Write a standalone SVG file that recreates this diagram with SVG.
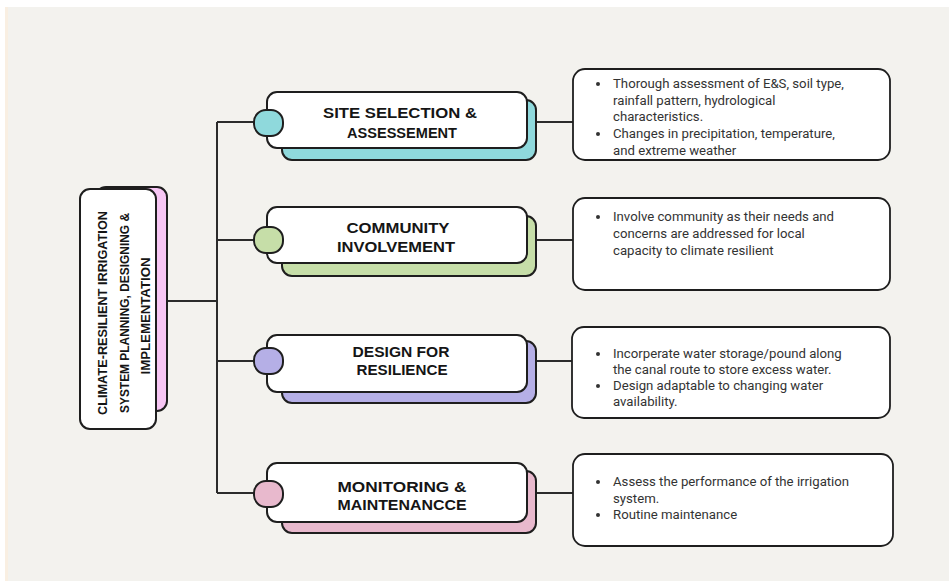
<svg xmlns="http://www.w3.org/2000/svg" width="949" height="581" viewBox="0 0 949 581">
<style>
.ln{stroke:#2b2b2b;stroke-width:2;fill:none}
.wb{fill:#ffffff;stroke:#1e1e1e;stroke-width:2}
.sh{stroke:#1e1e1e;stroke-width:2}
.nt{font-family:"Liberation Sans",Arial,sans-serif;font-weight:700;font-size:14px;fill:#151515;text-anchor:middle}
.ct{font-family:"Liberation Sans",Arial,sans-serif;font-weight:700;font-size:12.5px;fill:#151515;text-anchor:middle}
.dt{font-family:Roboto,"Liberation Sans",sans-serif;font-size:13.2px;fill:#333333}
.db{fill:#ffffff;stroke:#1e1e1e;stroke-width:1.8}
.bu{fill:#333333}
</style>
<rect x="0" y="0" width="949" height="581" fill="#ffffff"/>
<rect x="5" y="7" width="944" height="574" fill="#f9efe2"/>
<rect x="8" y="7" width="941" height="574" fill="#f3f2ee"/>

<g id="connectors">
<path class="ln" d="M167 301 H217 M217 122 V493 M217 122 H255 M217 240 H255 M217 361 H255 M217 493 H255"/>
<path class="ln" d="M535 122 H573 M535 240 H573 M535 361 H573 M535 493 H573"/>
</g>

<g id="central">
<rect x="96" y="187" width="71" height="224" rx="10" fill="#f7c6f4" class="sh"/>
<rect x="80" y="189" width="76" height="240" rx="10" class="wb"/>
<text class="ct" transform="translate(107 313) rotate(-90)" textLength="204" lengthAdjust="spacingAndGlyphs">CLIMATE-RESILIENT IRRIGATION</text>
<text class="ct" transform="translate(129 313) rotate(-90)" textLength="200" lengthAdjust="spacingAndGlyphs">SYSTEM PLANNING, DESIGNING &amp;</text>
<text class="ct" transform="translate(150 316) rotate(-90)" textLength="117" lengthAdjust="spacingAndGlyphs">IMPLEMENTATION</text>
</g>

<g id="node1">
<rect x="282" y="100" width="254" height="60" rx="10" fill="#8fd9dc" class="sh"/>
<rect x="267" y="92" width="260" height="56" rx="10" class="wb"/>
<rect x="254" y="110" width="29" height="26" rx="12" fill="#8fd9dc" class="sh"/>
<text class="nt" x="400" y="118" textLength="154" lengthAdjust="spacingAndGlyphs">SITE SELECTION &amp;</text>
<text class="nt" x="402" y="138" textLength="110" lengthAdjust="spacingAndGlyphs">ASSESSEMENT</text>
</g>

<g id="node2">
<rect x="282" y="216" width="254" height="60" rx="10" fill="#c6dea8" class="sh"/>
<rect x="267" y="207" width="260" height="56" rx="10" class="wb"/>
<rect x="254" y="227" width="29" height="26" rx="12" fill="#c6dea8" class="sh"/>
<text class="nt" x="398" y="233" textLength="103" lengthAdjust="spacingAndGlyphs">COMMUNITY</text>
<text class="nt" x="396" y="252" textLength="118" lengthAdjust="spacingAndGlyphs">INVOLVEMENT</text>
</g>

<g id="node3">
<rect x="282" y="341" width="254" height="62" rx="10" fill="#b5afe6" class="sh"/>
<rect x="267" y="335" width="260" height="57" rx="10" class="wb"/>
<rect x="254" y="348" width="29" height="26" rx="12" fill="#b5afe6" class="sh"/>
<text class="nt" x="401" y="357" textLength="97" lengthAdjust="spacingAndGlyphs">DESIGN FOR</text>
<text class="nt" x="402" y="375" textLength="91" lengthAdjust="spacingAndGlyphs">RESILIENCE</text>
</g>

<g id="node4">
<rect x="282" y="471" width="254" height="62" rx="10" fill="#e8b9cd" class="sh"/>
<rect x="267" y="463" width="260" height="59" rx="10" class="wb"/>
<rect x="254" y="481" width="29" height="26" rx="12" fill="#e8b9cd" class="sh"/>
<text class="nt" x="402" y="492" textLength="129" lengthAdjust="spacingAndGlyphs">MONITORING &amp;</text>
<text class="nt" x="402" y="510" textLength="129" lengthAdjust="spacingAndGlyphs">MAINTENANCCE</text>
</g>

<g id="desc1">
<rect x="573" y="69" width="317" height="91" rx="12" class="db"/>
<circle class="bu" cx="598" cy="84" r="2"/>
<circle class="bu" cx="598" cy="134" r="2"/>
<text class="dt" x="613" y="88">Thorough assessment of E&amp;S, soil type,</text>
<text class="dt" x="613" y="105">rainfall pattern, hydrological</text>
<text class="dt" x="613" y="121">characteristics.</text>
<text class="dt" x="613" y="138">Changes in precipitation, temperature,</text>
<text class="dt" x="613" y="155">and extreme weather</text>
</g>

<g id="desc2">
<rect x="573" y="198" width="317" height="92" rx="12" class="db"/>
<circle class="bu" cx="598" cy="217" r="2"/>
<text class="dt" x="613" y="221">Involve community as their needs and</text>
<text class="dt" x="613" y="238">concerns are addressed for local</text>
<text class="dt" x="613" y="255">capacity to climate resilient</text>
</g>

<g id="desc3">
<rect x="572" y="327" width="318" height="91" rx="12" class="db"/>
<circle class="bu" cx="598" cy="354" r="2"/>
<circle class="bu" cx="598" cy="386" r="2"/>
<text class="dt" x="613" y="358">Incorperate water storage/pound along</text>
<text class="dt" x="613" y="374">the canal route to store excess water.</text>
<text class="dt" x="613" y="390">Design adaptable to changing water</text>
<text class="dt" x="613" y="406">availability.</text>
</g>

<g id="desc4">
<rect x="573" y="454" width="320" height="92" rx="12" class="db"/>
<circle class="bu" cx="598" cy="482" r="2"/>
<circle class="bu" cx="598" cy="515" r="2"/>
<text class="dt" x="613" y="486">Assess the performance of the irrigation</text>
<text class="dt" x="613" y="503">system.</text>
<text class="dt" x="613" y="519">Routine maintenance</text>
</g>
</svg>
